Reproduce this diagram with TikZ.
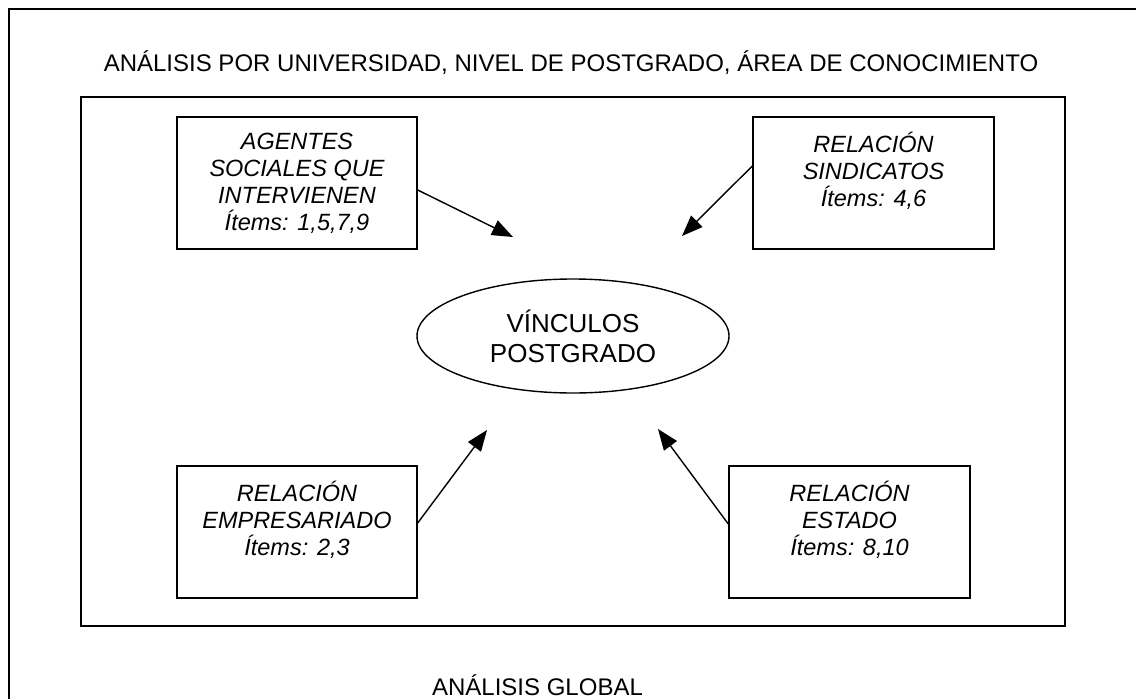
\documentclass[tikz,border=0pt]{standalone}
\usepackage{fontspec}
\setmainfont{Liberation Sans}
\usetikzlibrary{arrows.meta,shapes.geometric}
\begin{document}
\begin{tikzpicture}[x=1pt,y=-1pt,
  frame/.style={draw=black,line width=1.4pt},
  itembox/.style={draw=black,line width=1.4pt,rectangle,minimum width=240pt,minimum height=132pt,inner sep=0pt,align=center,font=\fontsize{23.5}{27}\selectfont\itshape},
  core/.style={draw=black,line width=1.4pt,ellipse,minimum width=312pt,minimum height=114pt,inner sep=0pt,align=center,font=\fontsize{26}{30}\selectfont},
  lbl/.style={anchor=base,inner sep=0pt,font=\fontsize{24}{27}\selectfont},
  link/.style={line width=1.4pt,-{Triangle[length=21pt,width=16pt]}}
]
\useasboundingbox (0,0) rectangle (1136,699);
% outer frame (cut by the page)
\draw[frame] (9,699) -- (9,9) -- (1136,9);
% inner frame
\draw[frame] (81,97) rectangle (1065,626);

\node[lbl] (title) at (571,71) {ANÁLISIS POR UNIVERSIDAD, NIVEL DE POSTGRADO, ÁREA DE CONOCIMIENTO};
\node[lbl] (global) at (537.5,695) {ANÁLISIS GLOBAL};

\node[core] (v) at (573,336) {VÍNCULOS\\POSTGRADO};

\node[itembox] (tl) at (297,183) {AGENTES\\SOCIALES QUE\\INTERVIENEN\\Ítems: 1,5,7,9};
\node[itembox,minimum width=241pt] (tr) at (873.5,183) {RELACIÓN\\SINDICATOS\\Ítems: 4,6\\\mbox{}};
\node[itembox] (bl) at (297,532) {RELACIÓN\\EMPRESARIADO\\Ítems: 2,3\\\mbox{}};
\node[itembox,minimum width=241pt] (br) at (849.5,532) {RELACIÓN\\ESTADO\\Ítems: 8,10\\\mbox{}};

\coordinate (t1) at (513,237);
\coordinate (t2) at (682,236);
\coordinate (t3) at (487,430);
\coordinate (t4) at (658,429);

\draw[link] ([yshift=-7pt]tl.east) -- (t1);
\draw[link] ([yshift=17pt]tr.west) -- (t2);
\draw[link] ([yshift=9pt]bl.east) -- (t3);
\draw[link] ([yshift=8pt]br.west) -- (t4);
\end{tikzpicture}
\end{document}
